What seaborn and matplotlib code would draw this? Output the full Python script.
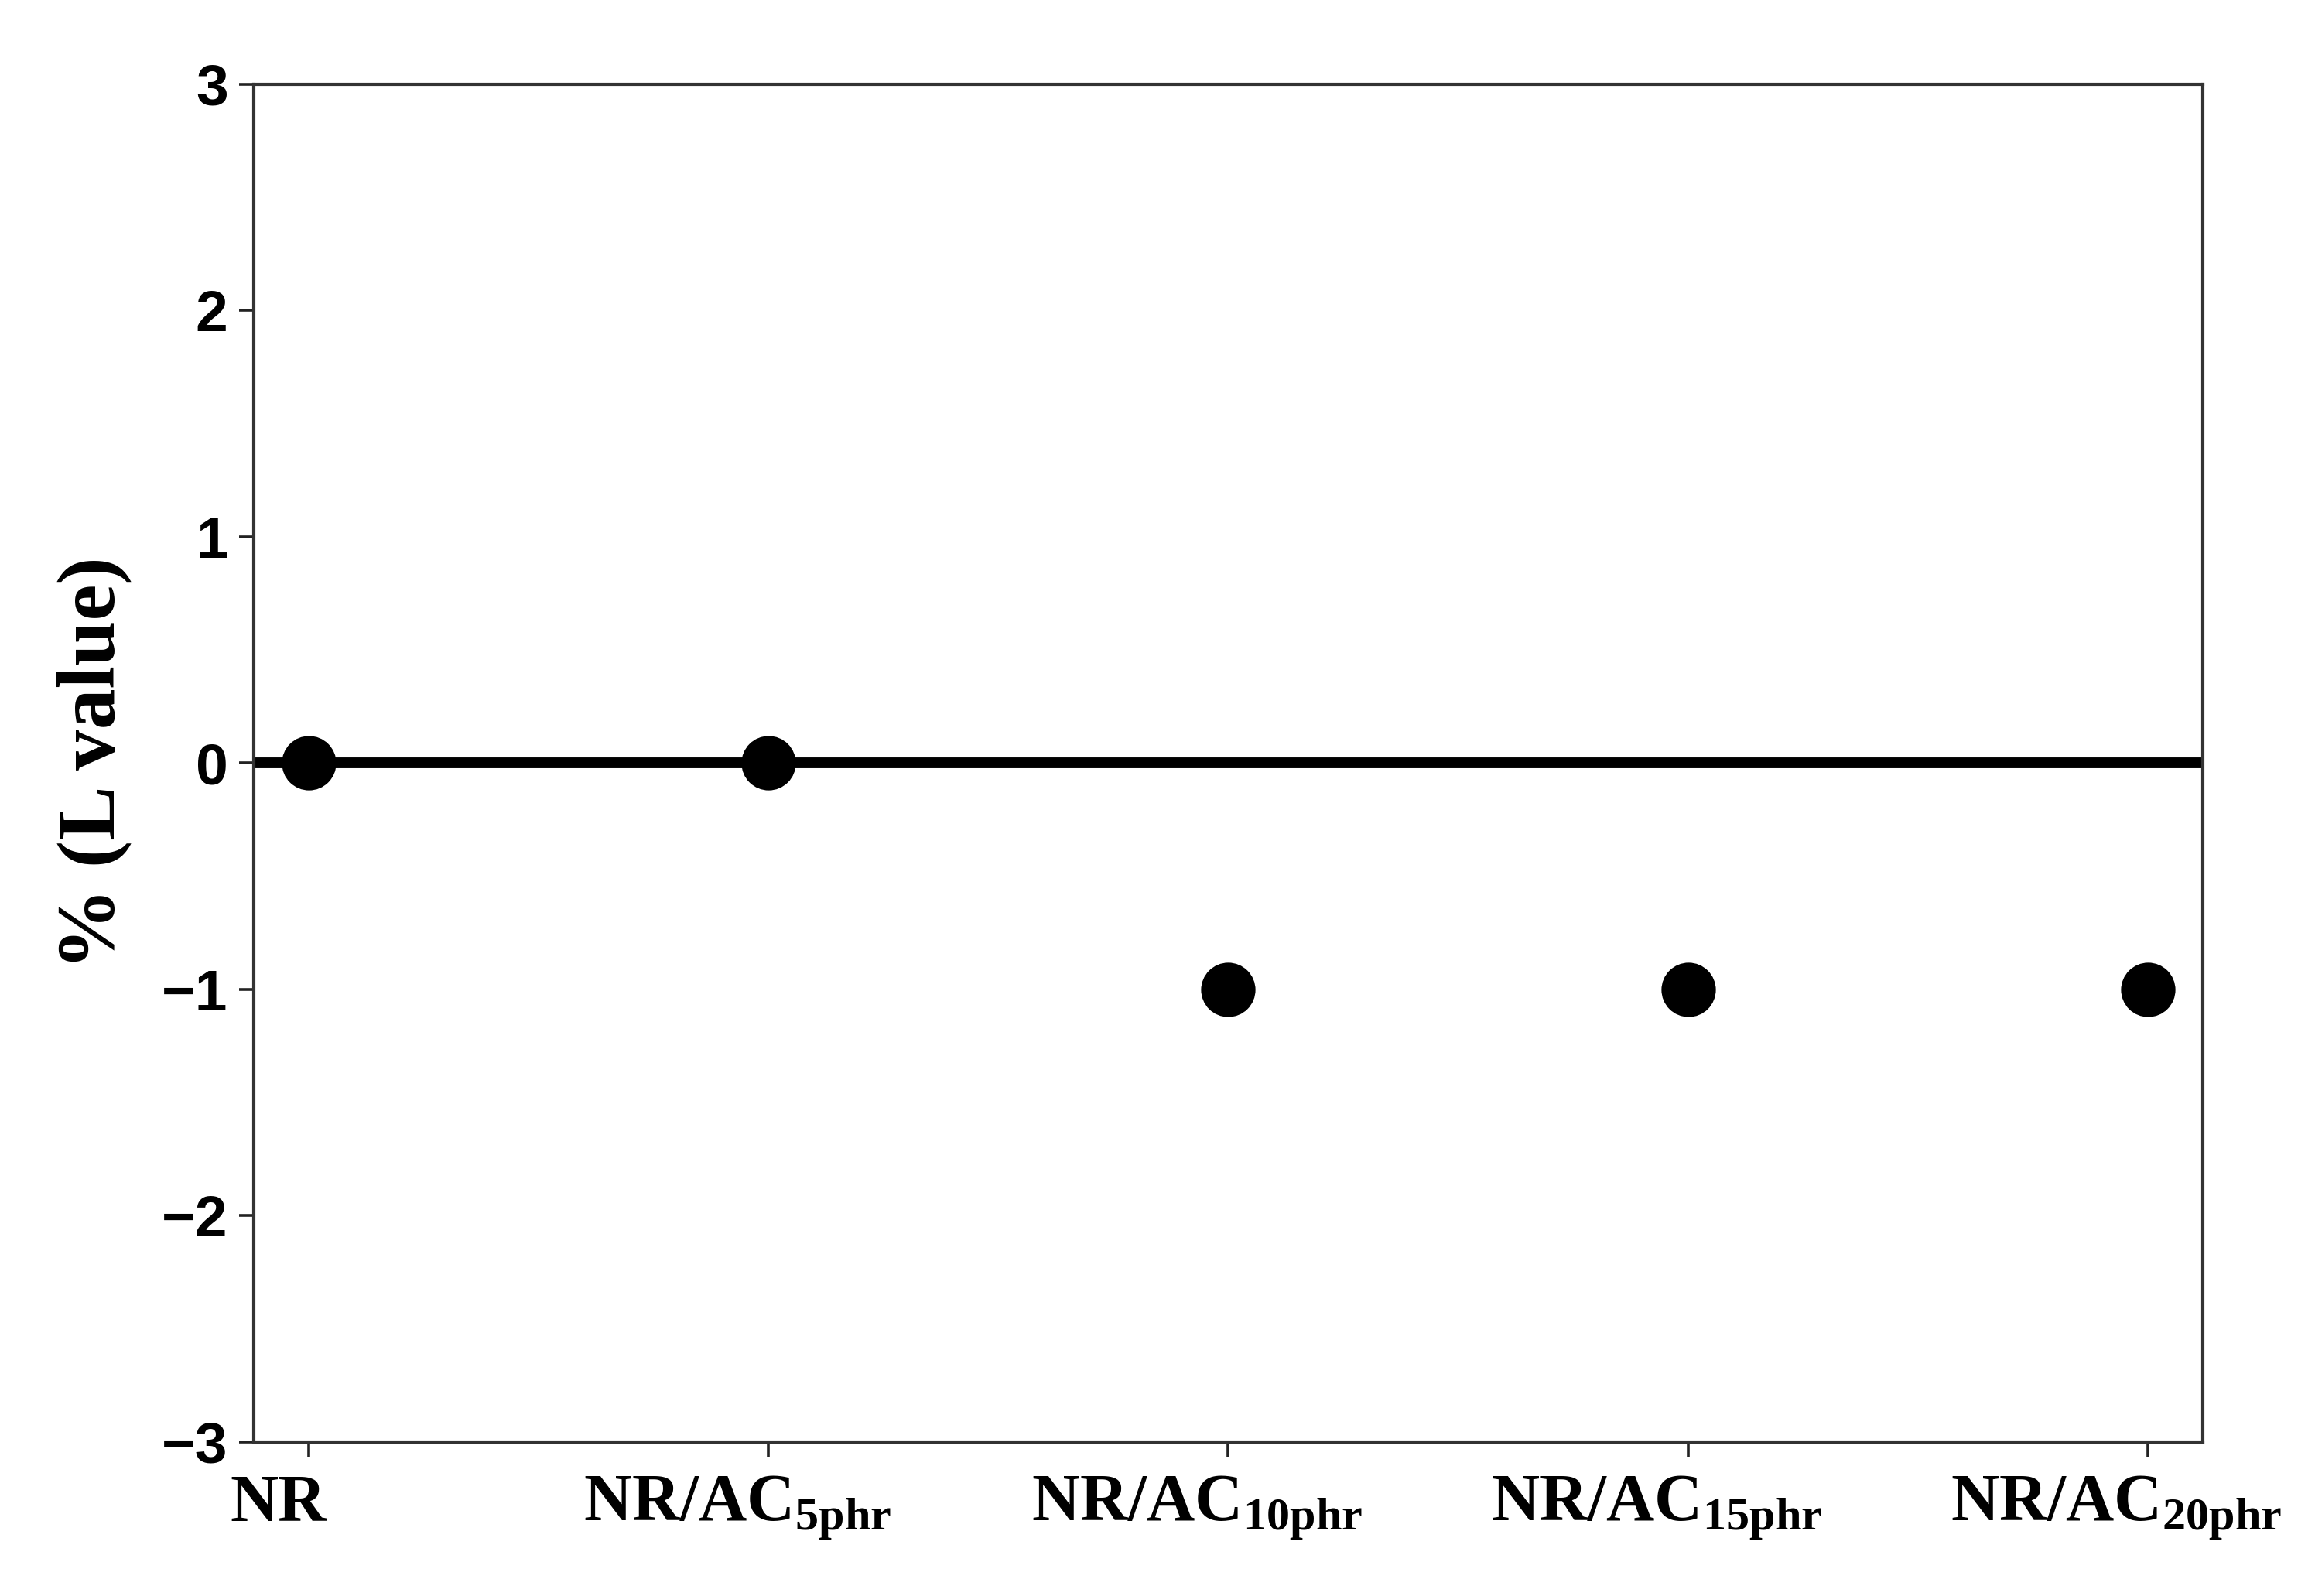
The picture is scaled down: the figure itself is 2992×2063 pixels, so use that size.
import numpy as np
import matplotlib
matplotlib.use('Agg')
import matplotlib.pyplot as plt
import matplotlib.transforms as mtransforms
import seaborn as sns

# data
samples = ['NR', 'NR/AC5', 'NR/AC10', 'NR/AC15', 'NR/AC20']
tick_labels = ['NR',
               r'NR/AC$\mathregular{_{5phr}}$',
               r'NR/AC$\mathregular{_{10phr}}$',
               r'NR/AC$\mathregular{_{15phr}}$',
               r'NR/AC$\mathregular{_{20phr}}$']
l_value = [0, 0, -1, -1, -1]
y_ticks = [-3, -2, -1, 0, 1, 2, 3]

sns.set_style('ticks')
plt.rcParams['font.family'] = ['Liberation Sans', 'DejaVu Sans']
plt.rcParams['axes.unicode_minus'] = True
plt.rcParams['mathtext.fontset'] = 'custom'
plt.rcParams['mathtext.rm'] = 'Liberation Serif:bold'

fig, ax = plt.subplots(figsize=(14.96, 10.315), dpi=200)
fig.subplots_adjust(left=0.1096, right=0.9515, top=0.9472, bottom=0.0965)

pos = np.arange(len(samples))
ax.axhline(0, color='black', lw=5, zorder=2)
sns.scatterplot(x=pos, y=l_value, ax=ax, color='black', s=640,
                edgecolor='black', linewidth=0, zorder=3, legend=False)

ax.set_xlim(-0.12, len(samples) - 1 + 0.12)
ax.set_ylim(-3, 3)
ax.set_yticks(y_ticks)
ax.set_yticklabels([str(v).replace('-', '\u2212') for v in y_ticks],
                   fontsize=27, fontweight='bold', family='Liberation Sans',
                   color='black')
ax.set_xticks(pos)
ax.set_xticklabels(tick_labels, fontsize=31, fontweight='bold',
                   family='Liberation Serif', color='black')
ax.set_ylabel('% (L value)', fontsize=38, fontweight='bold',
              family='Liberation Serif', labelpad=14, color='black')
ax.set_xlabel('')

ax.tick_params(axis='both', direction='out', length=7, width=1.3,
               color='#222222')
ax.tick_params(axis='y', pad=5)
ax.tick_params(axis='x', pad=8)
for sp in ax.spines.values():
    sp.set_visible(True)
    sp.set_linewidth(1.5)
    sp.set_color('#333333')

# labels in the original sit a little left of their ticks
shift = mtransforms.ScaledTranslation(-0.2, 0, fig.dpi_scale_trans)
for lab in ax.get_xticklabels():
    lab.set_transform(lab.get_transform() + shift)

fig.savefig('out.png', dpi=200, facecolor='white')
